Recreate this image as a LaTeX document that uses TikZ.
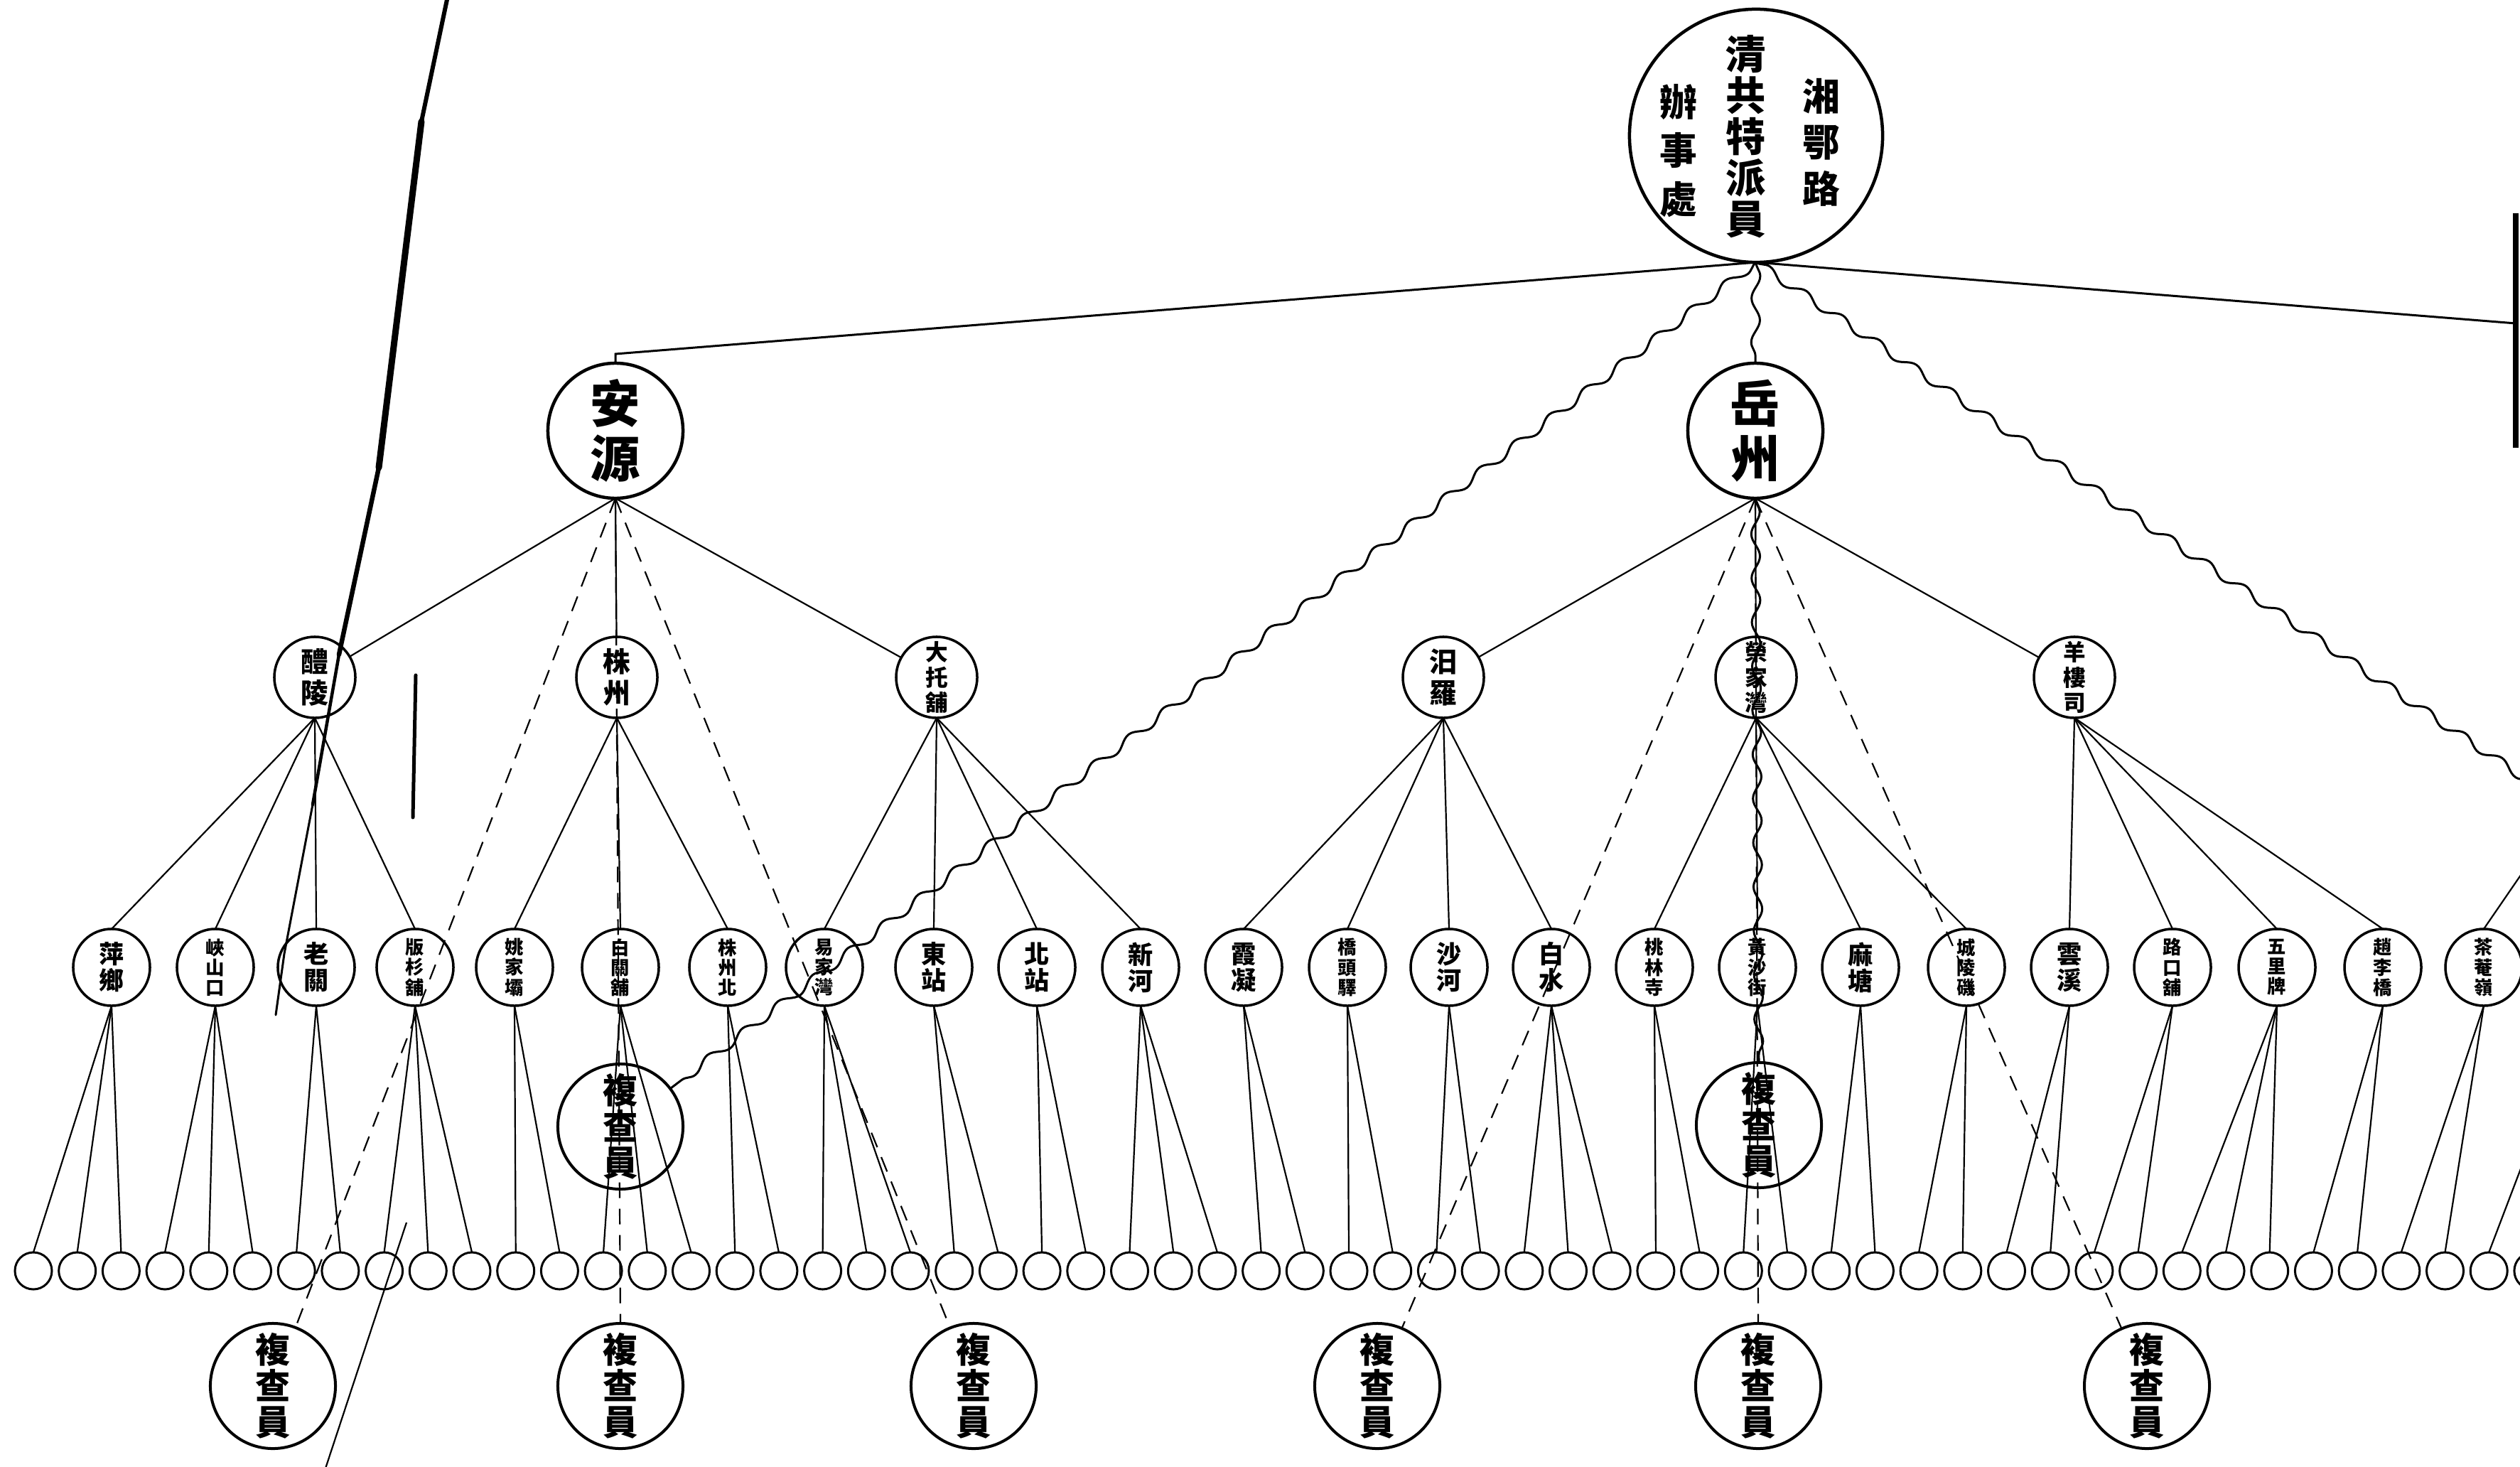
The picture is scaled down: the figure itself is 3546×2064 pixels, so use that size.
\documentclass[tikz,border=0pt]{standalone}
\usepackage{fontspec}
\newfontfamily\cjk{Noto Sans CJK TC}
\usetikzlibrary{decorations.pathmorphing}
\begin{document}
\begin{tikzpicture}[x=0.01cm,y=-0.01cm,
 every node/.style={inner sep=0pt,outer sep=0pt,align=center},
 conn/.style={line width=0.022cm},
 dsh/.style={line width=0.022cm,dash pattern=on 0.22cm off 0.15cm},
 wavy/.style={line width=0.03cm,decorate,decoration={snake,amplitude=0.06cm,segment length=0.62cm}},
 topc/.style={circle,draw,line width=0.045cm,minimum size=3.56cm},
 lone/.style={circle,draw,line width=0.045cm,minimum size=1.9cm,font=\cjk\bfseries\fontsize{20pt}{22pt}\selectfont},
 ltwo/.style={circle,draw,line width=0.035cm,minimum size=1.14cm},
 lthree/.style={circle,draw,line width=0.035cm,minimum size=1.08cm},
 sm/.style={circle,draw,line width=0.03cm,minimum size=0.52cm},
 fcq/.style={circle,draw,line width=0.04cm,minimum size=1.76cm,font=\cjk\bfseries\fontsize{14pt}{14.5pt}\selectfont},
 mtwo/.style={font=\cjk\bfseries\fontsize{11pt}{12.5pt}\selectfont},
 mthree/.style={font=\cjk\bfseries\fontsize{9pt}{10pt}\selectfont},
 two/.style={font=\cjk\bfseries\fontsize{10pt}{10.5pt}\selectfont},
 three/.style={font=\cjk\bfseries\fontsize{7.5pt}{8pt}\selectfont},
]
\fill[white] (0,0) rectangle (3546,2064);
\useasboundingbox (0,0) rectangle (3546,2064);

% top node
\node[topc] (top) at (2471,191) {};
\node[font=\cjk\bfseries\fontsize{16pt}{16.5pt}\selectfont] (topm) at (2457,192) {清\\共\\特\\派\\員};
\node[font=\cjk\bfseries\fontsize{15pt}{18.5pt}\selectfont] (topr) at (2563,200) {湘\\鄂\\路};
\node[font=\cjk\bfseries\fontsize{15pt}{19.5pt}\selectfont] (topl) at (2362,212) {辦\\事\\處};

% level 1
\node[lone] (ay) at (866,606) {安\\源};
\node[lone] (yz) at (2470,606) {岳\\州};

% level 2
\node[ltwo,mtwo] (m1) at (443,953) {醴\\陵};
\node[ltwo,mtwo] (m2) at (868,953) {株\\州};
\node[ltwo,mthree] (m3) at (1318,953) {大\\托\\舖};
\node[ltwo,mtwo] (m4) at (2031,953) {汨\\羅};
\node[ltwo,mthree] (m5) at (2471,953) {榮\\家\\灣};
\node[ltwo,mthree] (m6) at (2919,953) {羊\\樓\\司};

% level 3
\node[lthree,two] (l1) at (157,1361) {萍\\鄉};
\node[lthree,three] (l2) at (303,1361) {峽\\山\\口};
\node[lthree,two] (l3) at (445,1361) {老\\關};
\node[lthree,three] (l4) at (584,1361) {版\\杉\\舖};
\node[lthree,three] (l5) at (724,1361) {姚\\家\\壩};
\node[lthree,three] (l6) at (873,1361) {白\\關\\舖};
\node[lthree,three] (l7) at (1024,1361) {株\\州\\北};
\node[lthree,three] (l8) at (1160,1361) {易\\家\\灣};
\node[lthree,two] (l9) at (1314,1361) {東\\站};
\node[lthree,two] (l10) at (1459,1361) {北\\站};
\node[lthree,two] (l11) at (1605,1361) {新\\河};
\node[lthree,two] (l12) at (1750,1361) {霞\\凝};
\node[lthree,three] (l13) at (1896,1361) {橋\\頭\\驛};
\node[lthree,two] (l14) at (2039,1361) {沙\\河};
\node[lthree,two] (l15) at (2183,1361) {白\\水};
\node[lthree,three] (l16) at (2328,1361) {桃\\林\\寺};
\node[lthree,three] (l17) at (2473,1361) {黃\\沙\\街};
\node[lthree,two] (l18) at (2618,1361) {麻\\塘};
\node[lthree,three] (l19) at (2767,1361) {城\\陵\\磯};
\node[lthree,two] (l20) at (2912,1361) {雲\\溪};
\node[lthree,three] (l21) at (3057,1361) {路\\口\\舖};
\node[lthree,three] (l22) at (3204,1361) {五\\里\\牌};
\node[lthree,three] (l23) at (3353,1361) {趙\\李\\橋};
\node[lthree,three] (l24) at (3495,1361) {茶\\菴\\嶺};

% small circles
\foreach \i in {0,...,57} \node[sm] (s\i) at ({47+61.7*\i},1788) {};

% inspectors
\node[fcq] (fa) at (873,1585) {複\\查\\員};
\node[fcq] (fb) at (2475,1583) {複\\查\\員};
\node[fcq] (f1) at (384,1950) {複\\查\\員};
\node[fcq] (f2) at (873,1950) {複\\查\\員};
\node[fcq] (f3) at (1370,1950) {複\\查\\員};
\node[fcq] (f4) at (1938,1950) {複\\查\\員};
\node[fcq] (f5) at (2474,1950) {複\\查\\員};
\node[fcq] (f6) at (3021,1950) {複\\查\\員};

% free coordinates
\coordinate (ayc) at (866,498);
\coordinate (redge) at (3540,455);
\coordinate (rv1) at (3540,300);
\coordinate (rv2) at (3540,630);
\coordinate (wr) at (3560,1100);
\coordinate (cr1) at (3565,1205);
\coordinate (cr2) at (3640,1400);
\coordinate (a0) at (631,-10);
\coordinate (a1) at (593,171);
\coordinate (a2) at (533,658);
\coordinate (a3) at (477,921);
\coordinate (a4) at (440,1132);
\coordinate (a5) at (400,1342);
\coordinate (a6) at (388,1428);
\coordinate (b0) at (572,1720);
\coordinate (b1) at (455,2075);
\coordinate (k0) at (585,950);
\coordinate (k1) at (581,1150);

% top connectors
\draw[line width=0.03cm] (top.south) -- (ayc) -- (ay.north);
\draw[line width=0.03cm] (top.south) -- (redge);
\draw[line width=0.08cm] (rv1) -- (rv2);
\draw[wavy] (top.south) -- (fa);
\draw[wavy] (top.south) -- (yz.north);
\draw[wavy] (top.south) -- (wr);
\draw[wavy] (yz.south) -- (fb.north);

% level 1 -> level 2
\foreach \m in {1,2,3} \draw[conn] (ay.south) -- (m\m);
\foreach \m in {4,5,6} \draw[conn] (yz.south) -- (m\m);

% dashed to inspectors
\draw[dsh] (ay.south) -- (f1);
\draw[dsh] (ay.south) -- (f2.north);
\draw[dsh] (ay.south) -- (f3);
\draw[dsh] (yz.south) -- (f4);
\draw[dsh] (yz.south) -- (f5.north);
\draw[dsh] (yz.south) -- (f6);

% level 2 -> level 3
\foreach \m/\ls in {1/{1,2,3,4},2/{5,6,7},3/{8,9,10,11},4/{12,13,14,15},5/{16,17,18,19},6/{20,21,22,23}}
  \foreach \l in \ls \draw[conn] (m\m.south) -- (l\l.north);

% level 3 -> small circles
\foreach \p/\cs in {1/{0,1,2},2/{3,4,5},3/{6,7},4/{8,9,10},5/{11,12},6/{13,14,15},7/{16,17},8/{18,19,20},9/{21,22},10/{23,24},11/{25,26,27},12/{28,29},13/{30,31},14/{32,33},15/{34,35,36},16/{37,38},17/{39,40},18/{41,42},19/{43,44},20/{45,46},21/{47,48},22/{49,50,51},23/{52,53},24/{54,55}}
  \foreach \c in \cs \draw[conn] (l\p.south) -- (s\c.north);

% connectors leaving the sheet on the right
\draw[conn] (l24.north) -- (cr1);
\draw[conn] (cr2) -- (s56.north);
\draw[conn] (cr2) -- (s57.north);

% heavy stroke crossing the left part
\draw[line width=0.06cm,line cap=round] (a0) -- (a1);
\draw[line width=0.09cm,line cap=round] (a1) -- (a2);
\draw[line width=0.065cm,line cap=round] (a2) -- (a3);
\draw[line width=0.045cm,line cap=round] (a3) -- (a4);
\draw[line width=0.03cm,line cap=round] (a4) -- (a5) -- (a6);
\draw[conn] (b0) -- (b1);
\draw[line width=0.05cm,line cap=round] (k0) -- (k1);
\end{tikzpicture}
\end{document}
